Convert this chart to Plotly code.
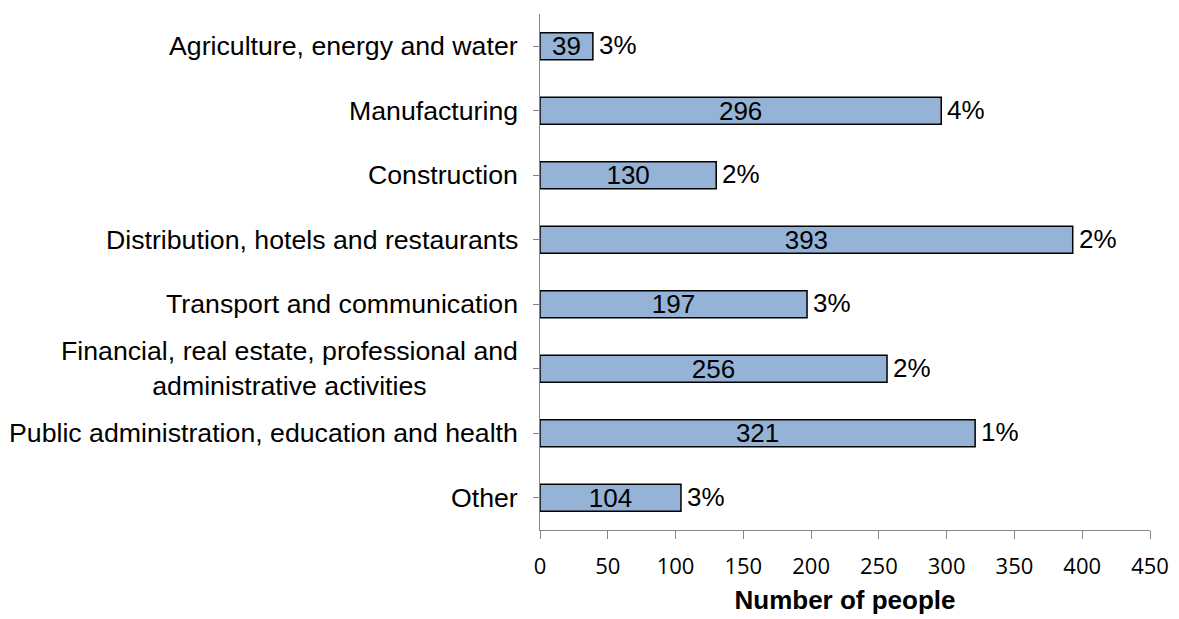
import plotly.graph_objects as go

categories = [
    "Agriculture, energy and water",
    "Manufacturing",
    "Construction",
    "Distribution, hotels and restaurants",
    "Transport and communication",
    "Financial, real estate, professional and<br>administrative activities",
    "Public administration, education and health",
    "Other",
]
people = [39, 296, 130, 393, 197, 256, 321, 104]
shares = ["3%", "4%", "2%", "2%", "3%", "2%", "1%", "3%"]
x_ticks = [0, 50, 100, 150, 200, 250, 300, 350, 400, 450]

FONT = "Liberation Sans, Arial, sans-serif"
TICK_FONT = "Open Sans, sans-serif"
ids = list(range(len(categories)))

fig = go.Figure()
fig.add_trace(go.Bar(
    x=people, y=ids, orientation="h",
    marker=dict(color="#95B3D7", line=dict(color="#000000", width=1.5)),
    text=[str(v) for v in people], textposition="inside",
    insidetextanchor="middle", textangle=0,
    textfont=dict(family=FONT, size=26, color="#000000"),
    hoverinfo="skip",
))

# percentage labels just right of each bar end
for i, v, s in zip(ids, people, shares):
    fig.add_annotation(
        x=v, y=i, text=s, showarrow=False, xanchor="left", xshift=4, yshift=1,
        font=dict(family=FONT, size=26, color="#000000"),
    )

# category labels as annotations so the wrapped label stays centred
for i, name in zip(ids, categories):
    fig.add_annotation(
        x=0, xref="paper", y=i, yref="y", text=name, showarrow=False,
        xanchor="right", align="center", xshift=-20,
        font=dict(family=FONT, size=26.7, color="#000000"),
    )

fig.update_layout(
    width=1171, height=611, showlegend=False,
    plot_bgcolor="white", paper_bgcolor="white",
    margin=dict(l=532, r=29, t=6, b=89),
    bargap=0.58,
    uniformtext=dict(minsize=26, mode="show"),
    font=dict(family=FONT, color="#000000"),
)
fig.update_xaxes(
    range=[0, 450], tickvals=x_ticks, showgrid=False, zeroline=False,
    showline=True, linecolor="#868686", linewidth=1.3,
    ticks="outside", ticklen=8, tickcolor="#868686",
    tickfont=dict(family=TICK_FONT, size=22, color="#000000"),
    ticklabelstandoff=8,
    title=dict(text="<b>Number of people</b>",
               font=dict(family=FONT, size=26, color="#000000"), standoff=12),
)
fig.update_yaxes(
    range=[7.5, -0.5], tickvals=ids, showticklabels=False, showgrid=False,
    zeroline=False, showline=True, linecolor="#868686", linewidth=1.3,
    ticks="outside", ticklen=6, tickcolor="#868686", tickson="boundaries",
)

fig.write_html("out.html")
